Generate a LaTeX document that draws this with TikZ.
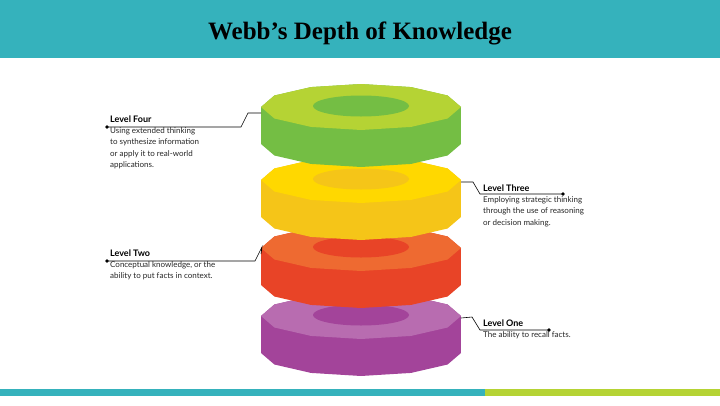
\documentclass[tikz,border=0pt]{standalone}
\usepackage{fontspec}
\setmainfont{Liberation Serif}
\newfontfamily\lab{Lato}
\definecolor{teal}{HTML}{35B2BC}
\definecolor{lime}{HTML}{B5D334}
\definecolor{gtop}{HTML}{B5D334}\definecolor{gside}{HTML}{74BE44}
\definecolor{ytop}{HTML}{FFD800}\definecolor{yside}{HTML}{F5C518}
\definecolor{otop}{HTML}{EE6A31}\definecolor{oside}{HTML}{E84427}
\definecolor{ptop}{HTML}{B86CB0}\definecolor{pside}{HTML}{A3449A}
\newcommand\mydisc[4]{% cy, top, side, name
  \begin{scope}[yshift=-#1pt]
  \fill[#3] (0:100 and 23) \foreach \a in {30,60,...,330}{-- (\a:100 and 23)} -- cycle;
  \fill[#3] ([yshift=-37pt]0:100 and 23) \foreach \a in {30,60,...,330}{-- ([yshift=-37pt]\a:100 and 23)} -- cycle;
  \fill[#3] (-100,0) rectangle (100,-37);
  \fill[#2] (0:100 and 23) \foreach \a in {30,60,...,330}{-- (\a:100 and 23)} -- cycle;
  \fill[#3] (0,1) ellipse (48 and 10.5);
  \coordinate (#4L) at (-100,-6);
  \coordinate (#4R) at (100,-2);
  \end{scope}}
\tikzset{ttl/.style={font=\lab\bfseries\fontsize{9}{10}\selectfont,anchor=base west,inner sep=0},
  dsc/.style={font=\lab\fontsize{8}{11.5}\selectfont,anchor=north west,inner sep=0,align=left,text=black!85},
  lead/.style={line width=0.6pt}}
\begin{document}
\begin{tikzpicture}[x=1pt,y=1pt]
\useasboundingbox (0,0) rectangle (720,-405);
\fill[teal] (0,0) rectangle (720,-58);
\node (title) at (360,-33) {\fontsize{25}{28}\selectfont\bfseries Webb's Depth of Knowledge};
\fill[teal] (0,-389) rectangle (485,-396);
\fill[lime] (485,-389) rectangle (720,-396);
\begin{scope}[xshift=361pt]
\mydisc{316}{ptop}{pside}{p}
\mydisc{248}{otop}{oside}{o}
\mydisc{180}{ytop}{yside}{y}
\mydisc{107}{gtop}{gside}{g}
\end{scope}
% Level Four
\node[ttl] (l4) at (110,-122) {Level Four};
\node[dsc] (d4) at (110,-127) {Using extended thinking\\to synthesize information\\or apply it to real-world\\applications.};
\fill (107,-127) circle (1.8) coordinate (dot4);
\draw[lead] (dot4) -- (241,-127) -- (248,-113) -- (gL);
% Level Three
\node[ttl] (l3) at (483,-191) {Level Three};
\node[dsc] (d3) at (483,-196) {Employing strategic thinking\\through the use of reasoning\\or decision making.};
\fill (563,-194) circle (1.8) coordinate (dot3);
\draw[lead] (yR) -- (473,-182) -- (480,-194) -- (dot3);
% Level Two
\node[ttl] (l2) at (110,-256) {Level Two};
\node[dsc] (d2) at (110,-261) {Conceptual knowledge, or the\\ability to put facts in context.};
\fill (107,-261) circle (1.8) coordinate (dot2);
\draw[lead] (dot2) -- (255,-261) -- (262,-247) -- (oL);
% Level One
\node[ttl] (l1) at (483,-326) {Level One};
\node[dsc] (d1) at (483,-331) {The ability to recall facts.};
\fill (549,-330) circle (1.8) coordinate (dot1);
\draw[lead] (pR) -- (472,-317) -- (480,-330) -- (dot1);
\end{tikzpicture}
\end{document}
